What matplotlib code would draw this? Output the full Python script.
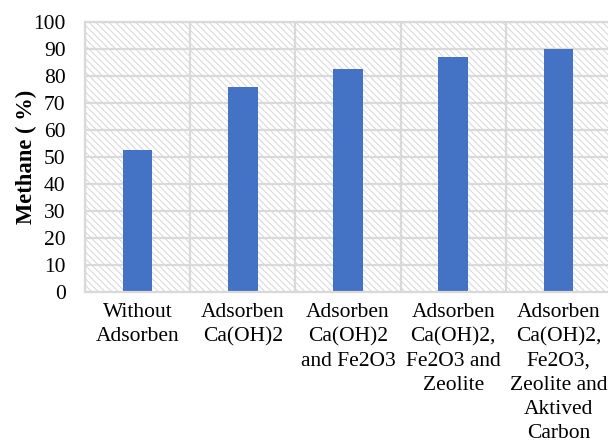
import matplotlib.pyplot as plt
import numpy as np
from matplotlib.patches import Rectangle

# Methane content for each adsorbent setup
categories = [
    'Without\nAdsorben',
    'Adsorben\nCa(OH)2',
    'Adsorben\nCa(OH)2\nand Fe2O3',
    'Adsorben\nCa(OH)2,\nFe2O3 and\nZeolite',
    'Adsorben\nCa(OH)2,\nFe2O3,\nZeolite and\nAktived\nCarbon',
]
methane = [52.5, 75.8, 82.6, 87.2, 90.1]
y_ticks = list(range(0, 101, 10))

plt.rcParams['font.family'] = 'Liberation Serif'
plt.rcParams['hatch.color'] = '#dadada'
plt.rcParams['hatch.linewidth'] = 0.8

grid_col = '#d9d9d9'

fig = plt.figure(figsize=(6.08, 4.46), dpi=100)
ax = fig.add_axes([85 / 608, 154 / 446, 526 / 608, 270 / 446])

x = np.arange(len(categories))

# patterned background of the plot area
ax.add_patch(Rectangle((0, 0), 1, 1, transform=ax.transAxes, facecolor='white',
                       edgecolor='#dadada', hatch='\\' * 5, linewidth=0, zorder=0.1))

ax.bar(x, methane, width=0.28, color='#4472C4', zorder=2)

ax.set_xlim(-0.5, len(categories) - 0.5)
ax.set_ylim(0, 100)
ax.set_yticks(y_ticks)
ax.set_xticks(x)
ax.set_xticklabels(categories, fontsize=15.5, linespacing=1.36)
ax.set_xticks(np.arange(len(categories) + 1) - 0.5, minor=True)
ax.tick_params(axis='y', length=0, labelsize=15.5, pad=14)
ax.tick_params(axis='x', which='both', length=0, pad=8)

ax.set_axisbelow(True)
ax.grid(axis='y', color=grid_col, linewidth=1.6, zorder=0.5)
ax.grid(axis='x', which='minor', color=grid_col, linewidth=1.6, zorder=0.5)

for side in ax.spines.values():
    side.set_color(grid_col)
    side.set_linewidth(1.6)

ax.set_ylabel('Methane ( %)', fontsize=16.3, fontweight='bold', labelpad=-2.5)

fig.savefig('out.png', dpi=100)
